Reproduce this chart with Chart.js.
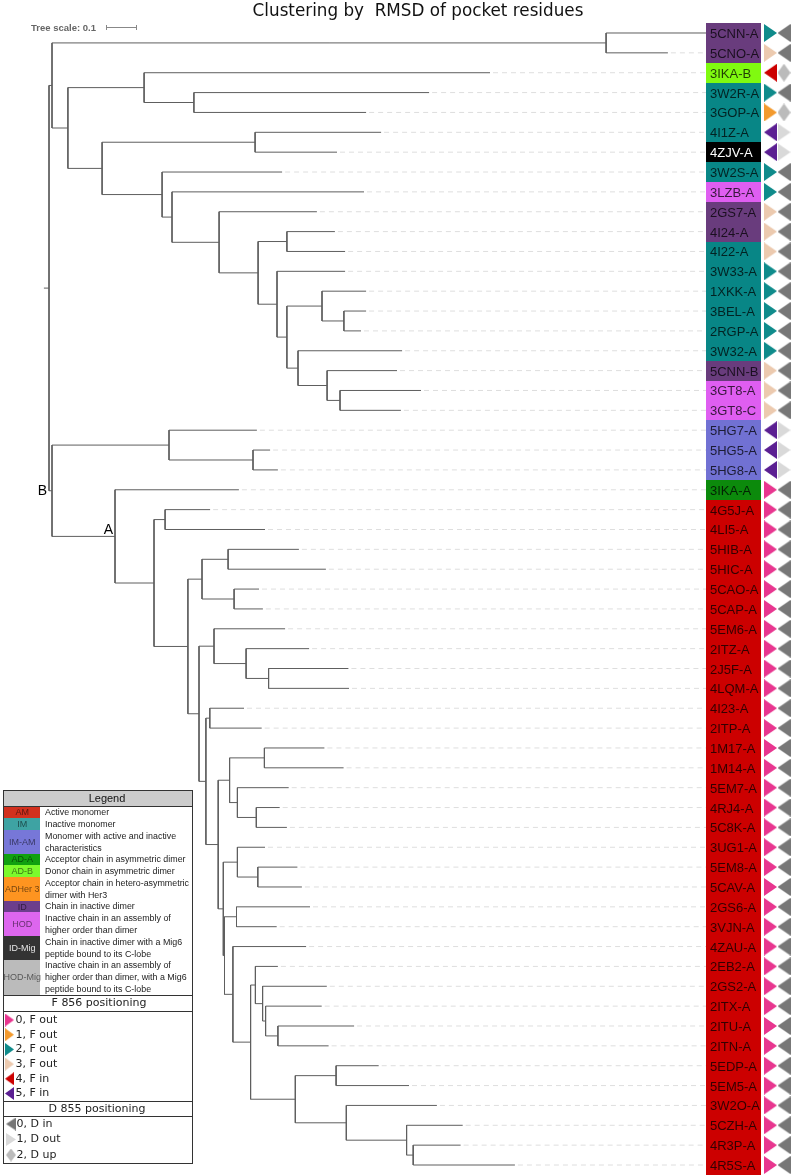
<!DOCTYPE html>
<html lang="en">
<head>
<meta charset="UTF-8">
<title>Clustering by RMSD of pocket residues</title>
<script src="https://cdn.jsdelivr.net/npm/chart.js"></script>
<style>
  html, body { margin: 0; padding: 0; background: #fff; }
  #wrap { width: 793px; height: 1175px; }
</style>
</head>
<body>
<div id="wrap"><canvas id="tree" width="793" height="1175"></canvas></div>
<script>
// leaves, top to bottom
const leaves = ['5CNN-A','5CNO-A','3IKA-B','3W2R-A','3GOP-A','4I1Z-A','4ZJV-A','3W2S-A','3LZB-A','2GS7-A',
  '4I24-A','4I22-A','3W33-A','1XKK-A','3BEL-A','2RGP-A','3W32-A','5CNN-B','3GT8-A','3GT8-C',
  '5HG7-A','5HG5-A','5HG8-A','3IKA-A','4G5J-A','4LI5-A','5HIB-A','5HIC-A','5CAO-A','5CAP-A',
  '5EM6-A','2ITZ-A','2J5F-A','4LQM-A','4I23-A','2ITP-A','1M17-A','1M14-A','5EM7-A','4RJ4-A',
  '5C8K-A','3UG1-A','5EM8-A','5CAV-A','2GS6-A','3VJN-A','4ZAU-A','2EB2-A','2GS2-A','2ITX-A',
  '2ITU-A','2ITN-A','5EDP-A','5EM5-A','3W2O-A','5CZH-A','4R3P-A','4R5S-A'];

// distance from root to each leaf (tree units)
const leafDepth = [2.19,2.063,1.47,1.267,1.057,1.107,0.96,0.777,1.05,0.893,
  0.953,0.987,0.987,1.057,1.057,1.04,1.177,1.16,1.24,1.173,
  0.693,0.737,0.763,0.633,0.537,0.72,0.833,0.923,0.7,0.713,
  0.787,0.867,0.998,1.0,0.65,0.709,0.918,0.982,0.799,0.769,
  0.793,0.72,0.828,0.843,0.87,0.759,0.857,0.763,0.926,0.909,
  1.017,0.932,1.099,1.2,1.293,1.379,1.372,1.553];

const leafClass = ['ID','ID','AD-B','IM','IM','IM','ID-Mig','IM','HOD','ID',
  'ID','IM','IM','IM','IM','IM','IM','ID','HOD','HOD',
  'IM-AM','IM-AM','IM-AM','AD-A','AM','AM','AM','AM','AM','AM',
  'AM','AM','AM','AM','AM','AM','AM','AM','AM','AM',
  'AM','AM','AM','AM','AM','AM','AM','AM','AM','AM',
  'AM','AM','AM','AM','AM','AM','AM','AM'];

// F 856 and D 855 positioning codes
const fState = [2,3,4,2,1,5,5,2,2,3, 3,3,2,2,2,2,2,3,3,3, 5,5,5,0,0,0,0,0,0,0,
  0,0,0,0,0,0,0,0,0,0, 0,0,0,0,0,0,0,0,0,0, 0,0,0,0,0,0,0,0];
const dState = [0,0,2,0,2,1,1,0,0,0, 0,0,0,0,0,0,0,0,0,0, 1,1,1,0,0,0,0,0,0,0,
  0,0,0,0,0,0,0,0,0,0, 0,0,0,0,0,0,0,0,0,0, 0,0,0,0,0,0,0,0];

// internal nodes: [upper child, lower child, node depth]; node i is called 'n'+i
const merges = [
  ['5CNN-A','5CNO-A',1.857], ['3W2R-A','3GOP-A',0.483], ['3IKA-B','n1',0.317],
  ['4I1Z-A','4ZJV-A',0.687], ['4I24-A','4I22-A',0.793], ['3BEL-A','2RGP-A',0.983],
  ['1XKK-A','n5',0.91], ['3GT8-A','3GT8-C',0.97], ['5CNN-B','n7',0.927],
  ['3W32-A','n8',0.83], ['n6','n9',0.793], ['3W33-A','n10',0.76],
  ['n4','n11',0.697], ['2GS7-A','n12',0.567], ['3LZB-A','n13',0.41],
  ['3W2S-A','n14',0.377], ['n3','n15',0.177], ['n2','n16',0.063],
  ['n0','n17',0.01],
  ['5HG5-A','5HG8-A',0.68], ['5HG7-A','n19',0.4], ['4G5J-A','4LI5-A',0.387],
  ['5HIB-A','5HIC-A',0.597], ['5CAO-A','5CAP-A',0.617], ['n22','n23',0.51],
  ['2J5F-A','4LQM-A',0.732], ['2ITZ-A','n25',0.657], ['5EM6-A','n26',0.55],
  ['4I23-A','2ITP-A',0.536], ['1M17-A','1M14-A',0.718], ['4RJ4-A','5C8K-A',0.691],
  ['5EM7-A','n30',0.628], ['n29','n31',0.602], ['5EM8-A','5CAV-A',0.696],
  ['3UG1-A','n33',0.628], ['2GS6-A','3VJN-A',0.625], ['2ITU-A','2ITN-A',0.763],
  ['2ITX-A','n36',0.722], ['2GS2-A','n37',0.712], ['2EB2-A','n38',0.688],
  ['5EDP-A','5EM5-A',0.957], ['4R3P-A','4R5S-A',1.214], ['5CZH-A','n41',1.192],
  ['3W2O-A','n42',0.991], ['n40','n43',0.821], ['n39','n44',0.672],
  ['4ZAU-A','n45',0.613], ['n35','n46',0.585], ['n34','n47',0.581],
  ['n32','n48',0.564], ['n28','n49',0.523], ['n27','n50',0.5],
  ['n24','n51',0.463], ['n21','n52',0.35], ['3IKA-A','n53',0.22],
  ['n20','n54',0.01], ['n18','n55',0]
];
const nodeLabels = { n54: 'A', n55: 'B' };

const classNames = ['AM','IM','IM-AM','AD-A','AD-B','ADHer 3','ID','HOD','ID-Mig','HOD-Mig'];
const classText = [
  ['Active monomer'],
  ['Inactive monomer'],
  ['Monomer with active and inactive','characteristics'],
  ['Acceptor chain in asymmetric dimer'],
  ['Donor chain in asymmetric dimer'],
  ['Acceptor chain in hetero-asymmetric','dimer with Her3'],
  ['Chain in inactive dimer'],
  ['Inactive chain in an assembly of','higher order than dimer'],
  ['Chain in inactive dimer with a Mig6','peptide bound to its C-lobe'],
  ['Inactive chain in an assembly of','higher order than dimer, with a Mig6','peptide bound to its C-lobe']
];
const fLegend = ['0, F out','1, F out','2, F out','3, F out','4, F in','5, F in'];
const dLegend = ['0, D in','1, D out','2, D up'];

// styles
const boxColors = { 'AM':'#cc0000', 'IM':'#088686', 'IM-AM':'#7171d3', 'AD-A':'#0c8a0c',
  'AD-B':'#80fa10', 'ID':'#693c7d', 'HOD':'#df5ef1', 'ID-Mig':'#000000' };
const swatchColors = { 'AM':'#d2301e', 'IM':'#3ea3a3', 'IM-AM':'#7777d8', 'AD-A':'#10a010',
  'AD-B':'#7cfa2c', 'ADHer 3':'#fe9420', 'ID':'#6c3e8c', 'HOD':'#dd66ee', 'ID-Mig':'#333333', 'HOD-Mig':'#bbbbbb' };
const fColors = ['#e8368f','#f39a2e','#0f8b8b','#eccaaf','#cc0000','#5b1f92'];
const fShapes = ['right','right','right','right','left','left'];
const dColors = ['#777777','#d9d9d9','#bbbbbb'];
const dShapes = ['left','right','diamond'];

const labelStart = 2.19;   // where the label column begins (tree units)
const fMarkX = 2.405, dMarkX = 2.45;

function markerCanvas(shape, color, w, h) {
  const c = document.createElement('canvas');
  c.width = w; c.height = h;
  const g = c.getContext('2d');
  g.fillStyle = color;
  g.beginPath();
  if (shape === 'right') { g.moveTo(0, 0); g.lineTo(w, h / 2); g.lineTo(0, h); }
  else if (shape === 'left') { g.moveTo(w, 0); g.lineTo(0, h / 2); g.lineTo(w, h); }
  else { g.moveTo(w / 2, 0); g.lineTo(w, h / 2); g.lineTo(w / 2, h); g.lineTo(0, h / 2); }
  g.closePath();
  g.fill();
  return c;
}
const fImgs = fColors.map((c, k) => markerCanvas(fShapes[k], c, 13, 18));
const dImgs = dColors.map((c, k) => markerCanvas(dShapes[k], c, 13, 18));

// node positions: x = depth, y = leaf index (internal node = midpoint of its children)
const pos = {};
leaves.forEach((n, i) => { pos[n] = { x: leafDepth[i], y: i }; });
merges.forEach((m, i) => { pos['n' + i] = { x: m[2], y: (pos[m[0]].y + pos[m[1]].y) / 2 }; });

const treePts = [];
const gap = () => treePts.push({ x: 0, y: null });
merges.forEach((m, i) => {
  const p = pos['n' + i], a = pos[m[0]], b = pos[m[1]];
  treePts.push({ x: p.x, y: a.y }, { x: p.x, y: b.y }); gap();
  treePts.push({ x: p.x, y: a.y }, { x: a.x, y: a.y }); gap();
  treePts.push({ x: p.x, y: b.y }, { x: b.x, y: b.y }); gap();
});
const root = pos['n' + (merges.length - 1)];
treePts.push({ x: root.x - 0.017, y: root.y }, { x: root.x, y: root.y });

const guidePts = [];
leaves.forEach((n, i) => {
  if (leafDepth[i] < labelStart - 0.005) {
    guidePts.push({ x: leafDepth[i] + 0.01, y: i }, { x: labelStart, y: i }, { x: 0, y: null });
  }
});

function drawLegend(ctx) {
  const L = 3.5, R = 192.5, T = 790.5, B = 1163.5, SW = 40, LH = 11.77;
  ctx.save();
  ctx.fillStyle = '#fff';
  ctx.fillRect(L, T, R - L, B - T);
  ctx.fillStyle = '#cccccc';
  ctx.fillRect(L, T, R - L, 16);
  ctx.fillStyle = '#111';
  ctx.font = '11px "Liberation Sans"';
  ctx.textAlign = 'center';
  ctx.textBaseline = 'middle';
  ctx.fillText('Legend', 107, T + 8.5);

  let yy = 806.5;
  classNames.forEach((c, k) => {
    const lines = classText[k];
    const h = lines.length * LH;
    ctx.fillStyle = swatchColors[c];
    ctx.fillRect(L, Math.round(yy), SW - L, Math.round(yy + h) - Math.round(yy));
    ctx.font = '9px "Liberation Sans"';
    ctx.textAlign = 'center';
    ctx.fillStyle = c === 'ID-Mig' ? '#e6e6e6' : 'rgba(0,0,0,0.55)';
    ctx.fillText(c, (L + SW) / 2 + 0.5, yy + h / 2 + 0.5);
    ctx.fillStyle = '#222';
    ctx.textAlign = 'left';
    ctx.font = '8.9px "Liberation Sans"';
    lines.forEach((t, j) => ctx.fillText(t, 45, yy + LH * j + LH / 2 + 0.5));
    yy += h;
  });

  ctx.strokeStyle = '#333';
  ctx.lineWidth = 1;
  [806.5, 995.5, 1011.5, 1101.5, 1116.5].forEach(v => {
    ctx.beginPath(); ctx.moveTo(L, v); ctx.lineTo(R, v); ctx.stroke();
  });
  ctx.strokeRect(L, T, R - L, B - T);

  ctx.fillStyle = '#222';
  ctx.font = '11px "DejaVu Sans"';
  ctx.textAlign = 'center';
  ctx.fillText('F 856 positioning', 99, 1003.5);
  ctx.fillText('D 855 positioning', 97, 1109);
  ctx.textAlign = 'left';
  fLegend.forEach((t, k) => {
    const cy = 1020 + k * 14.7;
    ctx.drawImage(markerCanvas(fShapes[k], fColors[k], 9, 13), 5, cy - 6.5);
    ctx.fillStyle = '#222';
    ctx.fillText(t, 15.5, cy);
  });
  dLegend.forEach((t, k) => {
    const cy = 1124 + k * 15.5;
    ctx.drawImage(markerCanvas(dShapes[k], dColors[k], 10, 13), 6, cy - 6.5);
    ctx.fillStyle = '#222';
    ctx.fillText(t, 16.5, cy);
  });
  ctx.restore();
}

const decor = {
  id: 'decor',
  beforeDatasetsDraw(chart) {
    const { ctx, scales: { x, y } } = chart;
    const bx = Math.round(x.getPixelForValue(labelStart));
    ctx.save();
    leaves.forEach((n, i) => {
      const top = Math.round(y.getPixelForValue(i - 0.5));
      const bot = Math.round(y.getPixelForValue(i + 0.5));
      ctx.fillStyle = boxColors[leafClass[i]];
      ctx.fillRect(bx, top, 55, bot - top);
    });
    ctx.restore();
  },
  afterDatasetsDraw(chart) {
    const { ctx, scales: { x, y } } = chart;
    ctx.save();
    // leaf names
    const bx = x.getPixelForValue(labelStart);
    ctx.font = '13px "Liberation Sans"';
    ctx.textAlign = 'left';
    ctx.textBaseline = 'alphabetic';
    leaves.forEach((n, i) => {
      ctx.fillStyle = leafClass[i] === 'ID-Mig' ? '#ffffff' : 'rgba(0,0,0,0.75)';
      ctx.fillText(n, bx + 4, y.getPixelForValue(i) + 5);
    });
    // internal node labels
    ctx.fillStyle = '#000';
    ctx.font = '14px "Liberation Sans"';
    ctx.textAlign = 'right';
    const pa = pos['n54'], pb = pos['n55'];
    ctx.textBaseline = 'bottom';
    ctx.fillText(nodeLabels.n54, x.getPixelForValue(pa.x) - 2, y.getPixelForValue(pa.y) + 1);
    ctx.textBaseline = 'middle';
    ctx.fillText(nodeLabels.n55, x.getPixelForValue(root.x) - 2, y.getPixelForValue(pb.y));
    // title
    ctx.fillStyle = '#111';
    ctx.font = '16.8px "DejaVu Sans"';
    ctx.textAlign = 'center';
    ctx.textBaseline = 'alphabetic';
    ctx.fillText('Clustering by  RMSD of pocket residues', 418, 15.5);
    // tree scale
    ctx.fillStyle = '#666';
    ctx.font = 'bold 9.5px "Liberation Sans"';
    ctx.textAlign = 'left';
    ctx.fillText('Tree scale: 0.1', 31, 30.5);
    const s0 = Math.round(x.getPixelForValue(0.19)) + 0.5, s1 = Math.round(x.getPixelForValue(0.29)) + 0.5;
    ctx.strokeStyle = '#888';
    ctx.lineWidth = 1;
    ctx.beginPath();
    ctx.moveTo(s0, 27.5); ctx.lineTo(s1, 27.5);
    ctx.moveTo(s0, 25); ctx.lineTo(s0, 30);
    ctx.moveTo(s1, 25); ctx.lineTo(s1, 30);
    ctx.stroke();
    ctx.restore();
    drawLegend(ctx);
  }
};

new Chart(document.getElementById('tree'), {
  type: 'scatter',
  data: {
    datasets: [
      { data: treePts, showLine: true, borderColor: '#5e5e5e', borderWidth: 1, pointRadius: 0, spanGaps: false },
      { data: guidePts, showLine: true, borderColor: '#dedede', borderWidth: 1, borderDash: [5, 4], pointRadius: 0, spanGaps: false },
      { data: leaves.map((n, i) => ({ x: fMarkX, y: i })), showLine: false, pointRadius: 6,
        pointStyle: c => fImgs[fState[c.dataIndex]] },
      { data: leaves.map((n, i) => ({ x: dMarkX, y: i })), showLine: false, pointRadius: 6,
        pointStyle: c => dImgs[dState[c.dataIndex]] }
    ]
  },
  options: {
    responsive: false,
    animation: false,
    events: [],
    layout: { padding: 0, autoPadding: false },
    plugins: { legend: { display: false }, tooltip: { enabled: false } },
    scales: {
      x: { type: 'linear', display: false, bounds: 'data', min: -49 / 300, max: 744 / 300 },
      y: { type: 'linear', display: false, reverse: true, bounds: 'data', min: -1.6616, max: 57.503 }
    }
  },
  plugins: [decor]
});
</script>
</body>
</html>
